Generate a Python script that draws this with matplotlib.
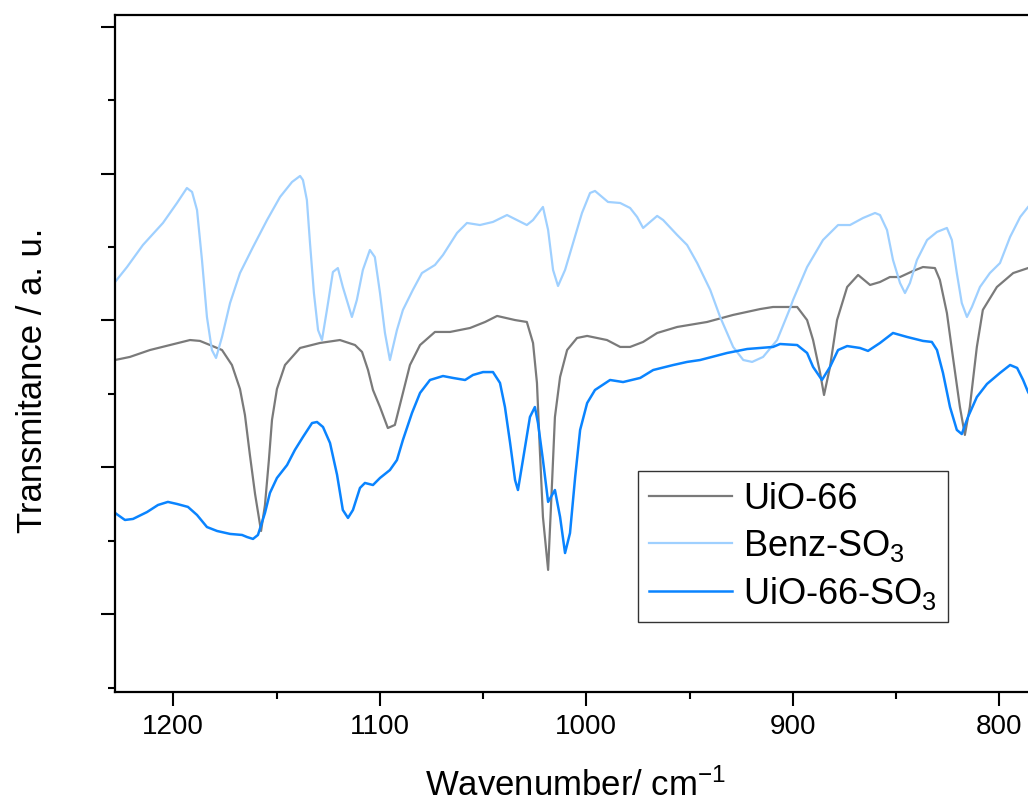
import matplotlib
matplotlib.use("Agg")
import matplotlib.pyplot as plt
from matplotlib.ticker import MultipleLocator

plt.rcParams['font.family'] = ['Liberation Sans', 'DejaVu Sans']
plt.rcParams['mathtext.fontset'] = 'custom'
plt.rcParams['mathtext.rm'] = 'Liberation Sans'
plt.rcParams['mathtext.it'] = 'Liberation Sans:italic'
plt.rcParams['mathtext.bf'] = 'Liberation Sans:bold'

# FTIR spectra (wavenumber in cm-1, transmittance in arbitrary units, offset)
uio66_wn = [1228.2, 1221.0, 1211.3, 1201.6, 1191.9, 1187.1, 1182.2, 1176.4, 1171.6, 1167.7,
            1165.3, 1162.9, 1160.4, 1157.5, 1155.6, 1153.7, 1152.2, 1149.8, 1145.9, 1138.6,
            1129.0, 1119.3, 1112.0, 1108.6, 1105.7, 1103.3, 1099.9, 1096.1, 1092.7, 1089.3,
            1085.4, 1080.5, 1073.3, 1066.0, 1056.3, 1049.0, 1043.2, 1034.5, 1028.8, 1025.8,
            1023.9, 1022.5, 1021.0, 1018.5, 1016.6, 1015.2, 1012.7, 1009.3, 1004.5, 999.6,
            990.0, 983.6, 978.8, 972.5, 965.7, 956.0, 941.5, 928.9, 915.8, 909.6,
            897.9, 893.1, 890.2, 886.8, 884.9, 882.0, 878.6, 873.7, 868.4, 862.6,
            857.8, 853.0, 848.1, 841.8, 837.0, 831.2, 828.8, 825.4, 822.5, 819.1,
            816.7, 814.3, 810.9, 808.0, 801.2, 793.3, 786.1, 783.0]
uio66_t = [1.731, 1.752, 1.799, 1.833, 1.867, 1.861, 1.833, 1.799, 1.697, 1.534,
           1.357, 1.085, 0.819, 0.567, 0.744, 1.050, 1.323, 1.534, 1.697, 1.813,
           1.847, 1.867, 1.833, 1.786, 1.663, 1.527, 1.411, 1.268, 1.289, 1.479,
           1.697, 1.833, 1.922, 1.922, 1.949, 1.990, 2.031, 2.003, 1.990, 1.847,
           1.575, 1.119, 0.662, 0.302, 0.894, 1.343, 1.616, 1.799, 1.881, 1.895,
           1.867, 1.820, 1.820, 1.854, 1.915, 1.956, 1.990, 2.038, 2.078, 2.092,
           2.092, 2.003, 1.867, 1.643, 1.493, 1.684, 2.003, 2.228, 2.310, 2.242,
           2.262, 2.296, 2.296, 2.337, 2.364, 2.357, 2.276, 2.051, 1.752, 1.411,
           1.221, 1.411, 1.820, 2.072, 2.228, 2.323, 2.357, 2.365]

benz_wn = [1228.2, 1222.4, 1214.7, 1205.0, 1198.2, 1193.4, 1190.9, 1188.5, 1186.1, 1183.7,
           1181.3, 1179.3, 1176.4, 1172.5, 1167.7, 1161.4, 1154.6, 1148.3, 1142.5, 1138.6,
           1137.2, 1135.3, 1133.8, 1131.9, 1129.9, 1128.0, 1125.6, 1122.7, 1120.3, 1117.9,
           1113.5, 1111.1, 1108.2, 1104.8, 1102.4, 1099.9, 1097.5, 1095.1, 1091.7, 1088.8,
           1084.0, 1079.6, 1073.3, 1069.4, 1062.6, 1057.8, 1051.5, 1045.2, 1038.4, 1033.6,
           1028.8, 1025.8, 1021.0, 1018.5, 1016.1, 1013.7, 1010.3, 1006.4, 1002.1, 998.2,
           995.8, 989.5, 983.6, 978.8, 975.4, 972.5, 969.1, 965.7, 962.8, 956.0,
           951.2, 946.3, 940.0, 935.2, 928.9, 924.0, 919.7, 914.4, 907.6, 901.3,
           899.9, 893.1, 885.4, 878.1, 872.3, 866.0, 860.2, 857.8, 854.4, 851.5,
           848.1, 845.7, 843.3, 839.9, 835.0, 830.2, 825.4, 823.0, 820.6, 818.2,
           815.7, 813.3, 809.4, 804.6, 799.7, 794.8, 789.9, 786.1, 783.0]
benz_t = [2.262, 2.364, 2.514, 2.664, 2.800, 2.902, 2.875, 2.752, 2.412, 2.024,
          1.799, 1.745, 1.888, 2.119, 2.323, 2.500, 2.684, 2.841, 2.943, 2.984,
          2.956, 2.820, 2.528, 2.187, 1.935, 1.867, 2.072, 2.330, 2.357, 2.228,
          2.024, 2.140, 2.344, 2.480, 2.432, 2.187, 1.915, 1.731, 1.935, 2.072,
          2.208, 2.323, 2.378, 2.446, 2.596, 2.664, 2.650, 2.671, 2.718, 2.684,
          2.650, 2.684, 2.773, 2.616, 2.344, 2.235, 2.344, 2.528, 2.732, 2.868,
          2.882, 2.807, 2.800, 2.766, 2.705, 2.630, 2.671, 2.712, 2.684, 2.582,
          2.514, 2.391, 2.208, 2.024, 1.820, 1.731, 1.718, 1.752, 1.867, 2.085,
          2.140, 2.364, 2.548, 2.650, 2.650, 2.698, 2.732, 2.718, 2.616, 2.412,
          2.255, 2.187, 2.255, 2.412, 2.548, 2.603, 2.630, 2.548, 2.323, 2.119,
          2.024, 2.092, 2.228, 2.323, 2.391, 2.569, 2.705, 2.773, 2.820]

uio66so3_wn = [1228.2, 1223.4, 1219.5, 1212.7, 1207.4, 1202.6, 1198.2, 1192.9, 1188.5, 1183.7,
               1178.8, 1172.5, 1166.7, 1164.3, 1161.4, 1159.0, 1155.6, 1153.2, 1149.8, 1144.9,
               1141.1, 1137.2, 1132.8, 1130.4, 1127.5, 1124.1, 1120.7, 1117.9, 1115.4, 1113.0,
               1109.6, 1107.2, 1103.3, 1099.9, 1095.1, 1091.7, 1088.8, 1084.4, 1080.5, 1075.7,
               1069.4, 1064.6, 1058.7, 1054.9, 1050.0, 1045.2, 1041.8, 1039.4, 1036.9, 1034.5,
               1033.1, 1030.7, 1027.3, 1024.9, 1023.4, 1021.0, 1018.5, 1015.2, 1012.7, 1010.3,
               1007.9, 1005.4, 1003.0, 999.6, 995.8, 988.5, 982.2, 973.9, 967.6, 957.9,
               951.2, 944.9, 931.8, 922.1, 909.6, 906.2, 897.9, 893.1, 890.2, 885.9,
               882.0, 878.1, 873.7, 867.5, 863.6, 857.8, 851.5, 844.7, 837.0, 832.7,
               830.2, 827.3, 823.9, 820.6, 818.2, 815.2, 810.9, 806.0, 799.7, 794.8,
               791.4, 788.5, 786.1, 783.0]
uio66so3_t = [0.690, 0.642, 0.649, 0.696, 0.744, 0.765, 0.751, 0.731, 0.676, 0.594,
              0.567, 0.547, 0.540, 0.526, 0.513, 0.540, 0.690, 0.826, 0.928, 1.016,
              1.119, 1.207, 1.302, 1.309, 1.275, 1.166, 0.950, 0.710, 0.656, 0.710,
              0.860, 0.894, 0.880, 0.928, 0.982, 1.050, 1.187, 1.371, 1.507, 1.595,
              1.622, 1.609, 1.595, 1.629, 1.649, 1.649, 1.575, 1.411, 1.166, 0.914,
              0.846, 1.050, 1.343, 1.411, 1.302, 1.050, 0.765, 0.846, 0.662, 0.417,
              0.553, 0.935, 1.255, 1.438, 1.527, 1.595, 1.581, 1.609, 1.663, 1.697,
              1.718, 1.731, 1.779, 1.806, 1.820, 1.840, 1.833, 1.779, 1.684, 1.595,
              1.684, 1.799, 1.826, 1.813, 1.793, 1.847, 1.915, 1.888, 1.861, 1.854,
              1.799, 1.643, 1.411, 1.255, 1.227, 1.343, 1.479, 1.568, 1.643, 1.697,
              1.677, 1.595, 1.513, 1.440]

series_labels = ['UiO-66', r'Benz-SO$\mathregular{_3}$', r'UiO-66-SO$\mathregular{_3}$']
series_colors = ['#7a7a7a', '#9fd0ff', '#0a84ff']

fig = plt.figure(figsize=(10.28, 8.05), dpi=100)
ax = fig.add_axes([0.1119, 0.1404, 0.9406, 0.8410])

ax.plot(uio66_wn, uio66_t, color=series_colors[0], lw=1.6, label=series_labels[0])
ax.plot(benz_wn, benz_t, color=series_colors[1], lw=1.6, label=series_labels[1])
ax.plot(uio66so3_wn, uio66so3_t, color=series_colors[2], lw=1.8, label=series_labels[2])

ax.set_xlim(1228.2, 760)
ax.set_ylim(-0.529, 4.08)

ax.xaxis.set_major_locator(MultipleLocator(100))
ax.xaxis.set_minor_locator(MultipleLocator(50))
ax.yaxis.set_major_locator(MultipleLocator(1))
ax.yaxis.set_minor_locator(MultipleLocator(0.5))
ax.tick_params(axis='both', which='major', direction='out', length=10, width=1.5,
               labelsize=20, pad=6)
ax.tick_params(axis='both', which='minor', direction='out', length=5, width=1.5)
ax.tick_params(axis='y', which='both', labelleft=False)
for side in ['left', 'bottom', 'top', 'right']:
    ax.spines[side].set_linewidth(1.6)

ax.set_xlabel(r'Wavenumber/ cm$\mathregular{^{-1}}$', fontsize=25)
ax.set_ylabel('Transmitance / a. u.', fontsize=25)
ax.xaxis.set_label_coords(0.476, -0.113)
ax.yaxis.set_label_coords(-0.068, 0.461)

leg = ax.legend(loc='upper left', bbox_to_anchor=(0.541, 0.3264), borderaxespad=0,
                fontsize=26, frameon=True, fancybox=False, edgecolor='black',
                handlelength=2.3, handletextpad=0.3, borderpad=0.3, labelspacing=0.3)
leg.get_frame().set_linewidth(1.0)

fig.savefig('out.png', dpi=100)
